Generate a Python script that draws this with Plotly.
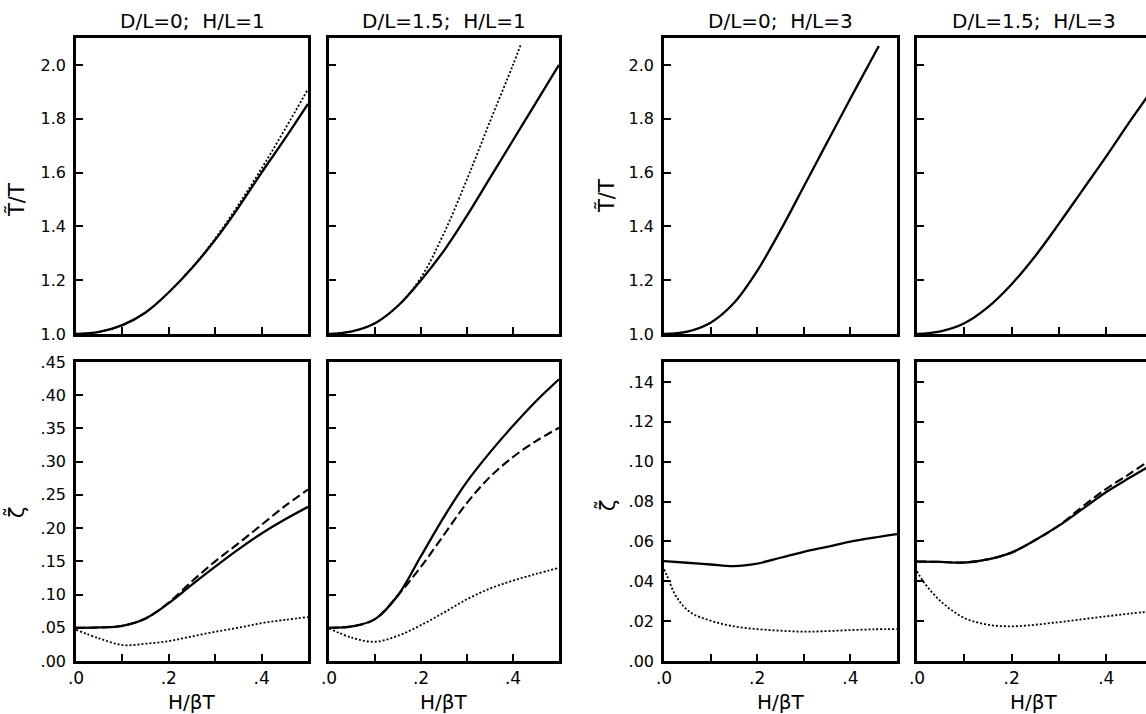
import plotly.graph_objects as go

# ---------------- data ----------------
X = [0.0, 0.05, 0.10, 0.15, 0.20, 0.25, 0.30, 0.35, 0.40, 0.45, 0.50]

# top row: T~/T
p1_solid = [1.0, 1.008, 1.033, 1.08, 1.155, 1.245, 1.35, 1.47, 1.60, 1.725, 1.855]
p1_dot = [1.0, 1.008, 1.033, 1.08, 1.155, 1.247, 1.355, 1.48, 1.615, 1.76, 1.91]

p2_solid = [1.0, 1.01, 1.04, 1.105, 1.20, 1.31, 1.44, 1.58, 1.72, 1.86, 2.0]
p2_dot_x = [0.0, 0.05, 0.10, 0.15, 0.20, 0.25, 0.30, 0.35, 0.40, 0.418]
p2_dot = [1.0, 1.01, 1.04, 1.105, 1.21, 1.375, 1.575, 1.79, 2.0, 2.08]

p3_x = [0.0, 0.05, 0.10, 0.15, 0.20, 0.25, 0.30, 0.35, 0.40, 0.45, 0.461]
p3_solid = [1.0, 1.009, 1.042, 1.115, 1.235, 1.385, 1.548, 1.712, 1.875, 2.035, 2.07]

p4_solid = [1.0, 1.01, 1.04, 1.10, 1.185, 1.29, 1.41, 1.535, 1.66, 1.79, 1.915]

# bottom row: zeta~
p5_solid = [0.050, 0.0505, 0.053, 0.064, 0.087, 0.115, 0.142, 0.168, 0.192, 0.213, 0.232]
p5_dash = [0.050, 0.0505, 0.053, 0.064, 0.088, 0.120, 0.150, 0.177, 0.205, 0.233, 0.258]
p5_dot = [0.047, 0.034, 0.024, 0.026, 0.030, 0.037, 0.044, 0.050, 0.057, 0.062, 0.066]

p6_solid = [0.050, 0.052, 0.063, 0.099, 0.158, 0.217, 0.270, 0.314, 0.354, 0.391, 0.424]
p6_dash = [0.050, 0.052, 0.063, 0.099, 0.142, 0.190, 0.238, 0.277, 0.307, 0.331, 0.351]
p6_dot = [0.049, 0.035, 0.029, 0.038, 0.054, 0.073, 0.093, 0.109, 0.121, 0.131, 0.140]

p7_solid = [0.0501, 0.0493, 0.0484, 0.0476, 0.0489, 0.0518, 0.0548, 0.0573, 0.0599, 0.0619, 0.0637]
p7_dot_x = [0.0, 0.006, 0.027, 0.056, 0.10, 0.15, 0.20, 0.25, 0.30, 0.35, 0.40, 0.45, 0.50]
p7_dot = [0.046, 0.043, 0.032, 0.0245, 0.0202, 0.0174, 0.016, 0.0152, 0.0147, 0.015, 0.0155, 0.0159, 0.016]

p8_solid = [0.0499, 0.0497, 0.0494, 0.051, 0.0544, 0.0607, 0.0679, 0.0763, 0.0848, 0.092, 0.099]
p8_dash = [0.0499, 0.0497, 0.0494, 0.051, 0.0544, 0.0607, 0.068, 0.0775, 0.0864, 0.094, 0.102]
p8_dot_x = [0.0, 0.013, 0.05, 0.10, 0.15, 0.20, 0.25, 0.30, 0.35, 0.40, 0.45, 0.50]
p8_dot = [0.045, 0.040, 0.030, 0.0216, 0.0182, 0.0174, 0.0182, 0.0195, 0.021, 0.0224, 0.0238, 0.025]

titles = ["D/L=0;  H/L=1", "D/L=1.5;  H/L=1", "D/L=0;  H/L=3", "D/L=1.5;  H/L=3"]

top_ticks = [1.0, 1.2, 1.4, 1.6, 1.8, 2.0]
top_ticktext = ["1.0", "1.2", "1.4", "1.6", "1.8", "2.0"]
b1_ticks = [0.0, 0.05, 0.10, 0.15, 0.20, 0.25, 0.30, 0.35, 0.40, 0.45]
b1_ticktext = [".00", ".05", ".10", ".15", ".20", ".25", ".30", ".35", ".40", ".45"]
b2_ticks = [0.0, 0.02, 0.04, 0.06, 0.08, 0.10, 0.12, 0.14]
b2_ticktext = [".00", ".02", ".04", ".06", ".08", ".10", ".12", ".14"]
x_ticks = [0.0, 0.1, 0.2, 0.3, 0.4]
x_ticktext = [".0", "", ".2", "", ".4"]

# ---------------- figure ----------------
W, H = 1146, 714
FONT = "DejaVu Sans"
cols_px = [(76, 308), (329, 559), (664, 897), (917, 1146)]
rows_px = [(38, 334), (362, 661)]

fig = go.Figure()

SOLID = dict(color="black", width=2.3)
DASH = dict(color="black", width=2.1, dash="9px,4px")
DOT = dict(color="black", width=1.8, dash="2px,2px")


def add(panel, xs, ys, line):
    fig.add_trace(go.Scatter(
        x=xs, y=ys, mode="lines", line=dict(shape="spline", smoothing=1.0, **line),
        xaxis="x" if panel == 1 else f"x{panel}",
        yaxis="y" if panel == 1 else f"y{panel}",
        showlegend=False, hoverinfo="skip"))


add(1, X, p1_dot, DOT)
add(1, X, p1_solid, SOLID)
add(2, p2_dot_x, p2_dot, DOT)
add(2, X, p2_solid, SOLID)
add(3, p3_x, p3_solid, SOLID)
add(4, X, p4_solid, SOLID)
add(5, X, p5_dot, DOT)
add(5, X, p5_dash, DASH)
add(5, X, p5_solid, SOLID)
add(6, X, p6_dot, DOT)
add(6, X, p6_dash, DASH)
add(6, X, p6_solid, SOLID)
add(7, p7_dot_x, p7_dot, DOT)
add(7, X, p7_solid, SOLID)
add(8, p8_dot_x, p8_dot, DOT)
add(8, X, p8_dash, DASH)
add(8, X, p8_solid, SOLID)

layout = dict(
    width=W, height=H, margin=dict(l=0, r=0, t=0, b=0, pad=0),
    paper_bgcolor="white", plot_bgcolor="white",
    font=dict(family=FONT, size=16, color="black"),
    showlegend=False,
)

common = dict(showline=True, linecolor="black", linewidth=2.5, ticks="inside",
              ticklen=7, tickwidth=2, tickcolor="black", showgrid=False,
              zeroline=False, fixedrange=True, automargin=False)

for r in range(2):
    for c in range(4):
        p = r * 4 + c + 1
        xk = "xaxis" if p == 1 else f"xaxis{p}"
        yk = "yaxis" if p == 1 else f"yaxis{p}"
        xa = "x" if p == 1 else f"x{p}"
        ya = "y" if p == 1 else f"y{p}"
        x0, x1 = cols_px[c]
        y0, y1 = rows_px[r]
        xr = [0, 0.5] if c < 3 else [0, 0.484]
        xd = dict(common, domain=[x0 / W, x1 / W], range=xr, anchor=ya, mirror=True,
                  tickvals=x_ticks,
                  ticktext=x_ticktext if r == 1 else [""] * 5,
                  showticklabels=(r == 1), tickfont=dict(size=17),
                  ticklabelstandoff=0)
        if r == 0:
            yr, tv, tt = [1.0, 2.1], top_ticks, top_ticktext
        elif c < 2:
            yr, tv, tt = [0, 0.45], b1_ticks, b1_ticktext
        else:
            yr, tv, tt = [0, 0.15], b2_ticks, b2_ticktext
        yd = dict(common, domain=[1 - y1 / H, 1 - y0 / H], range=yr, anchor=xa,
                  mirror=(c < 3), tickvals=tv, ticktext=tt,
                  showticklabels=(c in (0, 2)), tickfont=dict(size=16),
                  ticklabelstandoff=4)
        layout[xk] = xd
        layout[yk] = yd

ann = []
for c in range(4):
    x0, x1 = cols_px[c]
    cx = (x0 + x1) / 2 if c < 3 else 1034
    ann.append(dict(text=titles[c], x=cx / W, y=1 - 21 / H, xref="paper", yref="paper",
                    xanchor="center", yanchor="middle", showarrow=False,
                    font=dict(size=20, family=FONT)))
    ann.append(dict(text="H/βT", x=cx / W, y=1 - 702 / H, xref="paper", yref="paper",
                    xanchor="center", yanchor="middle", showarrow=False,
                    font=dict(size=20, family=FONT)))

for (px, py, txt) in [(16, 200, "T\u0303/T"), (606, 196, "T\u0303/T"),
                      (15, 513, "\u03b6\u0303"), (606, 505, "\u03b6\u0303")]:
    ann.append(dict(text=txt, x=px / W, y=1 - py / H, xref="paper", yref="paper",
                    xanchor="center", yanchor="middle", showarrow=False, textangle=-90,
                    font=dict(size=21, family=FONT)))

layout["annotations"] = ann
fig.update_layout(**layout)
fig.write_html("out.html")
